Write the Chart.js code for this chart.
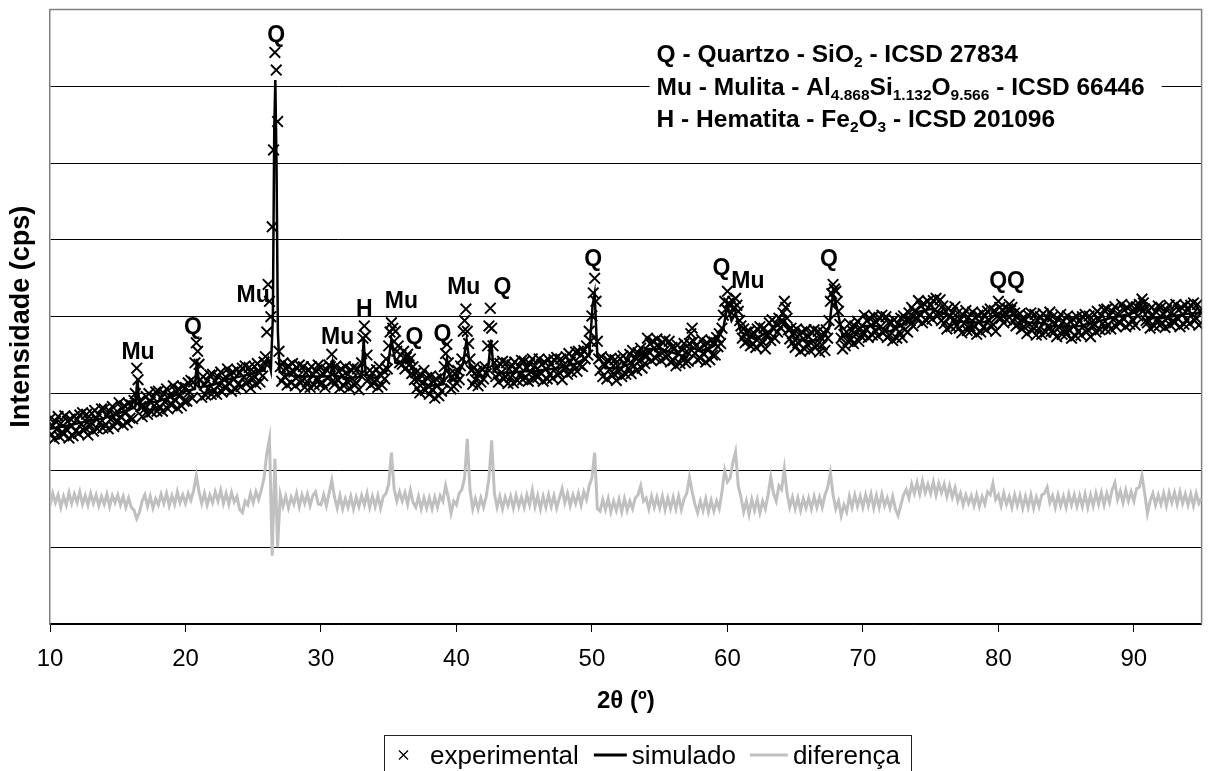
<!DOCTYPE html>
<html>
<head>
<meta charset="utf-8">
<script src="https://cdn.jsdelivr.net/npm/chart.js@4.4.0/dist/chart.umd.min.js"></script>
<style>
html, body { margin: 0; padding: 0; background: #fff; }
canvas { display: block; }
</style>
</head>
<body>
<canvas id="xrd" width="1211" height="771"></canvas>
<script>
const FONT = '"Liberation Sans", Arial, sans-serif';

// 2θ grids: measured pattern every 0.1°, difference curve every 0.2°
const expStart = 10, expStep = 0.1;
const difStart = 10, difStep = 0.2;

// experimental intensity, one row per degree (x.0 ... x.9)
const expIntensity = [
  267, 247, 258, 241, 264, 253, 270, 244, 261, 250,
  247, 271, 253, 264, 242, 267, 258, 245, 270, 251,
  266, 248, 272, 260, 275, 252, 255, 273, 246, 265,
  258, 274, 251, 278, 267, 254, 273, 262, 280, 255,
  280, 260, 271, 254, 277, 266, 283, 257, 274, 263,
  264, 288, 270, 281, 259, 284, 275, 262, 287, 268,
  285, 267, 291, 300, 333, 318, 290, 283, 270, 284,
  280, 296, 273, 300, 289, 276, 295, 284, 302, 277,
  303, 283, 294, 277, 300, 289, 306, 280, 297, 286,
  286, 310, 292, 303, 281, 306, 297, 284, 309, 290,
  308, 290, 314, 302, 317, 294, 315, 340, 366, 355,
  338, 318, 295, 322, 311, 298, 317, 306, 324, 299,
  325, 305, 316, 299, 322, 311, 328, 302, 319, 308,
  308, 332, 314, 325, 303, 328, 319, 306, 331, 312,
  327, 309, 333, 321, 336, 313, 316, 334, 307, 326,
  319, 335, 312, 339, 328, 315, 334, 323, 341, 348,
  380, 442, 420, 400, 517, 617, 744, 721, 654, 355,
  335, 316, 340, 322, 333, 311, 336, 327, 314, 339,
  328, 310, 334, 322, 337, 314, 317, 335, 308, 327,
  315, 331, 308, 335, 324, 311, 330, 319, 337, 312,
  334, 314, 325, 308, 331, 320, 337, 335, 351, 317,
  312, 336, 318, 329, 307, 332, 323, 310, 335, 316,
  325, 307, 331, 319, 334, 311, 314, 332, 305, 324,
  340, 372, 388, 375, 350, 318, 330, 311, 327, 315,
  315, 331, 308, 335, 324, 311, 330, 319, 345, 332,
  362, 380, 392, 385, 368, 381, 355, 362, 340, 350,
  338, 355, 332, 347, 351, 337, 345, 326, 335, 318,
  327, 307, 318, 301, 324, 313, 330, 304, 321, 310,
  299, 323, 305, 316, 294, 319, 310, 297, 322, 303,
  315, 335, 352, 364, 340, 325, 306, 322, 309, 326,
  314, 330, 318, 336, 345, 381, 395, 410, 381, 365,
  345, 330, 312, 334, 318, 329, 310, 327, 315, 332,
  319, 335, 326, 362, 388, 411, 385, 362, 340, 322,
  333, 315, 339, 327, 342, 319, 322, 340, 313, 332,
  321, 337, 314, 341, 330, 317, 336, 325, 343, 318,
  342, 322, 333, 316, 339, 328, 345, 319, 336, 325,
  321, 345, 327, 338, 316, 341, 332, 319, 344, 325,
  338, 320, 344, 332, 347, 324, 327, 345, 318, 337,
  332, 348, 325, 352, 341, 328, 347, 336, 354, 329,
  355, 337, 350, 335, 356, 345, 362, 350, 381, 368,
  401, 431, 450, 420, 368, 345, 330, 348, 322, 339,
  337, 319, 343, 331, 346, 323, 326, 344, 317, 336,
  329, 345, 322, 349, 338, 325, 344, 333, 351, 326,
  356, 336, 347, 330, 353, 342, 359, 333, 350, 339,
  348, 372, 354, 365, 343, 368, 359, 346, 371, 352,
  361, 343, 367, 355, 370, 347, 350, 368, 341, 360,
  343, 359, 336, 363, 352, 339, 358, 347, 365, 340,
  355, 342, 365, 378, 385, 368, 352, 362, 344, 358,
  346, 370, 352, 363, 341, 366, 357, 344, 369, 350,
  367, 350, 373, 361, 378, 365, 385, 402, 420, 410,
  433, 418, 414, 405, 420, 412, 424, 415, 407, 395,
  388, 372, 384, 366, 380, 369, 381, 362, 377, 365,
  378, 360, 384, 372, 387, 364, 367, 385, 358, 377,
  376, 392, 369, 396, 385, 372, 391, 380, 398, 386,
  395, 405, 420, 412, 398, 383, 371, 385, 366, 379,
  360, 384, 366, 377, 355, 380, 371, 358, 383, 364,
  374, 356, 380, 368, 383, 360, 363, 381, 354, 373,
  363, 379, 356, 383, 372, 395, 420, 430, 442, 436,
  433, 420, 407, 390, 372, 358, 377, 362, 380, 368,
  391, 371, 382, 365, 388, 377, 394, 368, 385, 374,
  378, 402, 384, 395, 373, 398, 389, 376, 401, 382,
  393, 375, 399, 387, 402, 379, 382, 400, 373, 392,
  376, 392, 369, 396, 385, 372, 391, 380, 398, 373,
  401, 383, 396, 380, 405, 395, 412, 388, 407, 398,
  397, 421, 403, 414, 392, 417, 408, 395, 420, 401,
  415, 397, 421, 409, 424, 401, 404, 422, 395, 414,
  391, 407, 384, 411, 400, 387, 406, 395, 413, 388,
  405, 385, 396, 379, 402, 391, 408, 382, 399, 388,
  382, 406, 388, 399, 377, 402, 393, 380, 405, 386,
  401, 383, 407, 395, 410, 387, 390, 408, 381, 400,
  420, 412, 398, 409, 392, 405, 396, 410, 416, 408,
  412, 394, 405, 388, 401, 391, 404, 384, 398, 387,
  396, 378, 402, 390, 405, 382, 385, 403, 376, 395,
  384, 400, 377, 404, 393, 380, 399, 388, 406, 381,
  400, 380, 391, 374, 397, 386, 403, 377, 394, 383,
  377, 401, 383, 394, 372, 397, 388, 375, 400, 381,
  394, 376, 400, 388, 403, 380, 383, 401, 374, 393,
  387, 403, 380, 407, 396, 383, 402, 391, 409, 384,
  410, 390, 401, 384, 407, 396, 413, 387, 404, 393,
  392, 416, 398, 409, 387, 412, 403, 390, 415, 396,
  407, 389, 413, 401, 416, 410, 423, 418, 410, 395,
  392, 408, 385, 412, 401, 388, 407, 396, 414, 389,
  412, 392, 403, 386, 409, 398, 415, 389, 406, 395,
  392, 416, 398, 409, 387, 412, 403, 390, 415, 396,
  409, 391, 415, 403, 418, 395, 398, 416, 389, 408,
  405
];

// difference curve (shifted down), one row per degree (x.0 .2 .4 .6 .8)
const difIntensity = [
  154, 170, 158, 168, 152,
  166, 155, 171, 157, 169,
  158, 172, 156, 167, 155,
  170, 157, 168, 154, 166,
  156, 169, 153, 167, 158,
  168, 155, 166, 152, 164,
  152, 148, 137, 145, 160,
  168, 153, 166, 151, 163,
  155, 169, 157, 170, 154,
  167, 156, 172, 158, 168,
  157, 170, 161, 174, 193,
  172, 157, 170, 155, 168,
  158, 172, 160, 174, 157,
  170, 156, 171, 159, 166,
  149, 145, 160, 155, 170,
  158, 172, 162, 175, 190,
  222, 241, 89, 215, 100,
  168, 153, 166, 151, 165,
  156, 170, 153, 168, 157,
  169, 154, 167, 172, 156,
  155, 168, 154, 170, 187,
  165, 151, 167, 150, 163,
  152, 166, 150, 165, 153,
  167, 155, 170, 152, 166,
  153, 167, 151, 166, 170,
  182, 223, 176, 160, 172,
  160, 171, 156, 174, 158,
  152, 166, 150, 164, 151,
  164, 150, 165, 152, 167,
  160, 180, 165, 144, 160,
  155, 170, 175, 190, 241,
  175, 150, 163, 150, 164,
  152, 166, 190, 239, 170,
  152, 166, 150, 165, 154,
  166, 151, 167, 153, 165,
  152, 168, 155, 174, 153,
  167, 150, 166, 152, 168,
  153, 167, 151, 164, 176,
  158, 170, 154, 168, 157,
  170, 155, 172, 162, 180,
  190, 223, 150, 147, 162,
  149, 163, 146, 160, 148,
  162, 146, 163, 148, 160,
  150, 164, 168, 180, 160,
  164, 150, 166, 152, 165,
  151, 166, 149, 164, 150,
  165, 150, 166, 149, 163,
  170, 191, 172, 156, 145,
  160, 148, 163, 146, 161,
  147, 160, 150, 172, 200,
  185, 190, 210, 224, 180,
  165, 146, 160, 143, 162,
  148, 162, 145, 160, 150,
  168, 191, 170, 160, 180,
  175, 202, 170, 152, 165,
  150, 164, 148, 163, 151,
  164, 150, 166, 152, 165,
  152, 168, 178, 197, 168,
  150, 160, 141, 155, 146,
  166, 152, 168, 153, 166,
  152, 168, 154, 169, 151,
  167, 152, 169, 154, 164,
  151, 166, 150, 141, 155,
  168, 175, 164, 182, 170,
  184, 169, 186, 171, 182,
  170, 185, 168, 183, 171,
  182, 166, 180, 165, 177,
  160, 170, 155, 168, 157,
  167, 154, 168, 153, 166,
  156, 172, 168, 183, 162,
  168, 154, 170, 156, 166,
  152, 168, 154, 167, 151,
  166, 152, 168, 151, 165,
  153, 168, 170, 178, 158,
  167, 152, 168, 154, 166,
  152, 169, 155, 168, 153,
  167, 153, 169, 152, 168,
  154, 170, 156, 171, 155,
  170, 158, 175, 184, 162,
  173, 158, 174, 160, 172,
  160, 176, 178, 193, 170,
  144, 160, 170, 155, 168,
  156, 170, 154, 171, 158,
  171, 156, 172, 157, 169,
  155, 169, 154, 170, 157,
  164
];

// calculated (Rietveld) profile
const simTheta = [10, 11, 12, 13, 14, 15, 16, 16.3, 16.45, 16.6, 17, 18, 19, 20, 20.7, 20.85, 21, 22, 23, 24, 25,
  25.8, 26.1, 26.3, 26.45, 26.55, 26.63, 26.72, 26.82, 26.95, 27.5, 28, 29, 30, 30.7, 30.85, 31, 32, 33, 33.15, 33.3,
  34, 34.9, 35.2, 35.5, 36, 36.5, 37, 38, 39, 39.3, 39.6, 40, 40.5, 40.75, 41, 41.5, 42, 42.35, 42.55, 42.75,
  43, 44, 45, 46, 47, 48, 49, 49.8, 50.05, 50.2, 50.4, 51, 52, 53, 54, 55, 56, 57, 57.4, 58, 59,
  59.7, 60, 60.3, 60.6, 61, 62, 63, 64.2, 65, 66, 67, 67.5, 67.8, 68.1, 68.5,
  69, 70, 71, 72, 73, 74, 75, 76, 77, 78, 79, 80, 80.5, 81, 82, 83, 84, 85, 86, 87, 88, 89, 90, 90.6, 91, 92, 93, 94, 95];
const simIntensity = [254, 257, 261, 265, 268, 274, 280, 283, 320, 284, 287, 290, 296, 303, 306, 345, 308, 311, 318, 322, 326,
  330, 345, 330, 400, 640, 708, 600, 380, 328, 325, 323, 322, 322, 322, 340, 323, 320, 322, 370, 325,
  320, 330, 370, 340, 340, 345, 320, 310, 312, 345, 316, 320, 340, 370, 335, 322, 322, 335, 370, 330,
  327, 327, 329, 329, 332, 335, 340, 350, 415, 430, 350, 333, 333, 340, 358, 358, 353, 347, 360, 355, 362,
  385, 415, 395, 405, 380, 371, 380, 395, 371, 368, 371, 385, 430, 410, 375,
  375, 388, 388, 381, 390, 406, 410, 404, 394, 392, 393, 405, 400, 402, 392, 392, 388, 387, 388, 392, 397, 401, 405, 412, 398, 398, 401, 404, 405];

// phase marks above the peaks
const peakText = ['Q', 'Mu', 'Q', 'Mu', 'Mu', 'H', 'Mu', 'Q', 'Q', 'Mu', 'Q', 'Q', 'Q', 'Mu', 'Q', 'QQ'];
const peakTheta = [26.7, 16.5, 20.56, 25.0, 31.23, 33.2, 35.94, 36.9, 38.96, 40.54, 43.4, 50.1, 59.56, 61.51, 67.5, 80.64];
const peakIntensity = [766, 353, 386, 427, 373, 409, 420, 373, 377, 438, 438, 474, 462, 446, 474, 446];

// phase key, [text, subscript?]
const phaseKey = [
  [['Q - Quartzo - SiO', 0], ['2', 1], [' - ICSD 27834', 0]],
  [['Mu - Mulita - Al', 0], ['4.868', 1], ['Si', 0], ['1.132', 1], ['O', 0], ['9.566', 1], [' - ICSD 66446', 0]],
  [['H - Hematita - Fe', 0], ['2', 1], ['O', 0], ['3', 1], [' - ICSD 201096', 0]]
];

const seriesNames = ['experimental', 'simulado', 'diferença'];

const expPoints = expIntensity.map((v, i) => ({x: expStart + i * expStep, y: v}));
const difPoints = difIntensity.map((v, i) => ({x: difStart + i * difStep, y: v}));
const simPoints = simTheta.map((t, i) => ({x: t, y: simIntensity[i]}));

function richLine(ctx, parts, x, y) {
  parts.forEach(function(p) {
    ctx.font = p[1] ? 'bold 15.5px ' + FONT : 'bold 24.5px ' + FONT;
    ctx.fillText(p[0], x, p[1] ? y + 5 : y);
    x += ctx.measureText(p[0]).width;
  });
}

const plotDecor = {
  id: 'plotDecor',
  beforeDatasetsDraw(chart) {
    const ctx = chart.ctx;
    const a = chart.chartArea;
    ctx.save();
    // grey frame on top / right
    ctx.strokeStyle = '#808080';
    ctx.lineWidth = 1.5;
    ctx.beginPath();
    ctx.moveTo(a.left, a.top);
    ctx.lineTo(a.right, a.top);
    ctx.lineTo(a.right, a.bottom);
    ctx.stroke();
    // phase key box
    ctx.fillStyle = '#fff';
    ctx.fillRect(a.right - 552, a.top + 25, 512, 105);
    ctx.fillStyle = '#000';
    ctx.textBaseline = 'alphabetic';
    ctx.textAlign = 'left';
    phaseKey.forEach(function(line, i) {
      richLine(ctx, line, a.right - 545, a.top + 53 + i * 32.5);
    });
    ctx.restore();
  },
  afterDatasetsDraw(chart) {
    const ctx = chart.ctx;
    const xs = chart.scales.x, ys = chart.scales.y;
    ctx.save();
    ctx.fillStyle = '#000';
    ctx.font = 'bold 23px ' + FONT;
    ctx.textAlign = 'center';
    ctx.textBaseline = 'middle';
    peakText.forEach(function(t, i) {
      ctx.fillText(t, xs.getPixelForValue(peakTheta[i]), ys.getPixelForValue(peakIntensity[i]));
    });
    ctx.restore();
  },
  afterDraw(chart) {
    // legend box under the axis title
    const ctx = chart.ctx;
    const ds = chart.data.datasets;
    const y = 755;
    ctx.save();
    ctx.strokeStyle = '#222';
    ctx.lineWidth = 1;
    ctx.strokeRect(384.5, 735.5, 527, 60);
    ctx.font = '26px ' + FONT;
    ctx.fillStyle = '#000';
    ctx.textBaseline = 'middle';
    ctx.textAlign = 'left';
    let x = 399;
    // marker
    ctx.strokeStyle = ds[0].borderColor;
    ctx.lineWidth = 1.3;
    ctx.beginPath();
    ctx.moveTo(x, y - 4.5); ctx.lineTo(x + 9, y + 4.5);
    ctx.moveTo(x + 9, y - 4.5); ctx.lineTo(x, y + 4.5);
    ctx.stroke();
    x += 31;
    ctx.fillText(ds[0].label, x, y + 2);
    x += ctx.measureText(ds[0].label).width + 15;
    ctx.strokeStyle = ds[1].borderColor;
    ctx.lineWidth = 3;
    ctx.beginPath(); ctx.moveTo(x, y); ctx.lineTo(x + 33, y); ctx.stroke();
    x += 38;
    ctx.fillText(ds[1].label, x, y + 2);
    x += ctx.measureText(ds[1].label).width + 14;
    ctx.strokeStyle = ds[2].borderColor;
    ctx.beginPath(); ctx.moveTo(x, y); ctx.lineTo(x + 38, y); ctx.stroke();
    x += 43;
    ctx.fillText(ds[2].label, x, y + 2);
    ctx.restore();
  }
};

new Chart(document.getElementById('xrd'), {
  type: 'scatter',
  data: {
    datasets: [
      {
        label: seriesNames[0],
        data: expPoints,
        showLine: false,
        pointStyle: 'crossRot',
        pointRadius: 7.5,
        borderColor: '#000',
        backgroundColor: 'rgba(0,0,0,0)',
        borderWidth: 1.9
      },
      {
        label: seriesNames[1],
        data: simPoints,
        showLine: true,
        pointRadius: 0,
        borderColor: '#000',
        borderWidth: 2.5,
        tension: 0
      },
      {
        label: seriesNames[2],
        data: difPoints,
        showLine: true,
        pointRadius: 0,
        borderColor: '#c0c0c0',
        borderWidth: 3,
        tension: 0
      }
    ]
  },
  options: {
    responsive: false,
    animation: false,
    devicePixelRatio: 1,
    events: [],
    layout: {padding: {top: 7, right: 6, bottom: 0, left: 0}},
    plugins: {legend: {display: false}, tooltip: {enabled: false}},
    scales: {
      x: {
        type: 'linear',
        min: 10,
        max: 95,
        afterFit: function(s) { s.height = 147; },
        ticks: {stepSize: 10, includeBounds: false, color: '#000', padding: 13, maxRotation: 0,
          font: {family: FONT, size: 24}},
        grid: {drawOnChartArea: false, drawTicks: true, tickLength: 8, color: '#000'},
        border: {color: '#000', width: 1.5},
        title: {display: true, text: '2θ (º)', color: '#000', padding: {top: 0, bottom: 55},
          font: {family: FONT, size: 24, weight: 'bold'}}
      },
      y: {
        min: 0,
        max: 800,
        afterFit: function(s) { s.width = 50; },
        ticks: {stepSize: 100, display: false},
        grid: {drawTicks: false, color: function(c) { return c.tick && c.tick.value === 800 ? '#808080' : '#000'; }},
        border: {color: '#808080', width: 1.5},
        title: {display: true, text: 'Intensidade (cps)', color: '#000', padding: {top: 5, bottom: 0},
          font: {family: FONT, size: 27, weight: 'bold'}}
      }
    }
  },
  plugins: [plotDecor]
});
</script>
</body>
</html>
